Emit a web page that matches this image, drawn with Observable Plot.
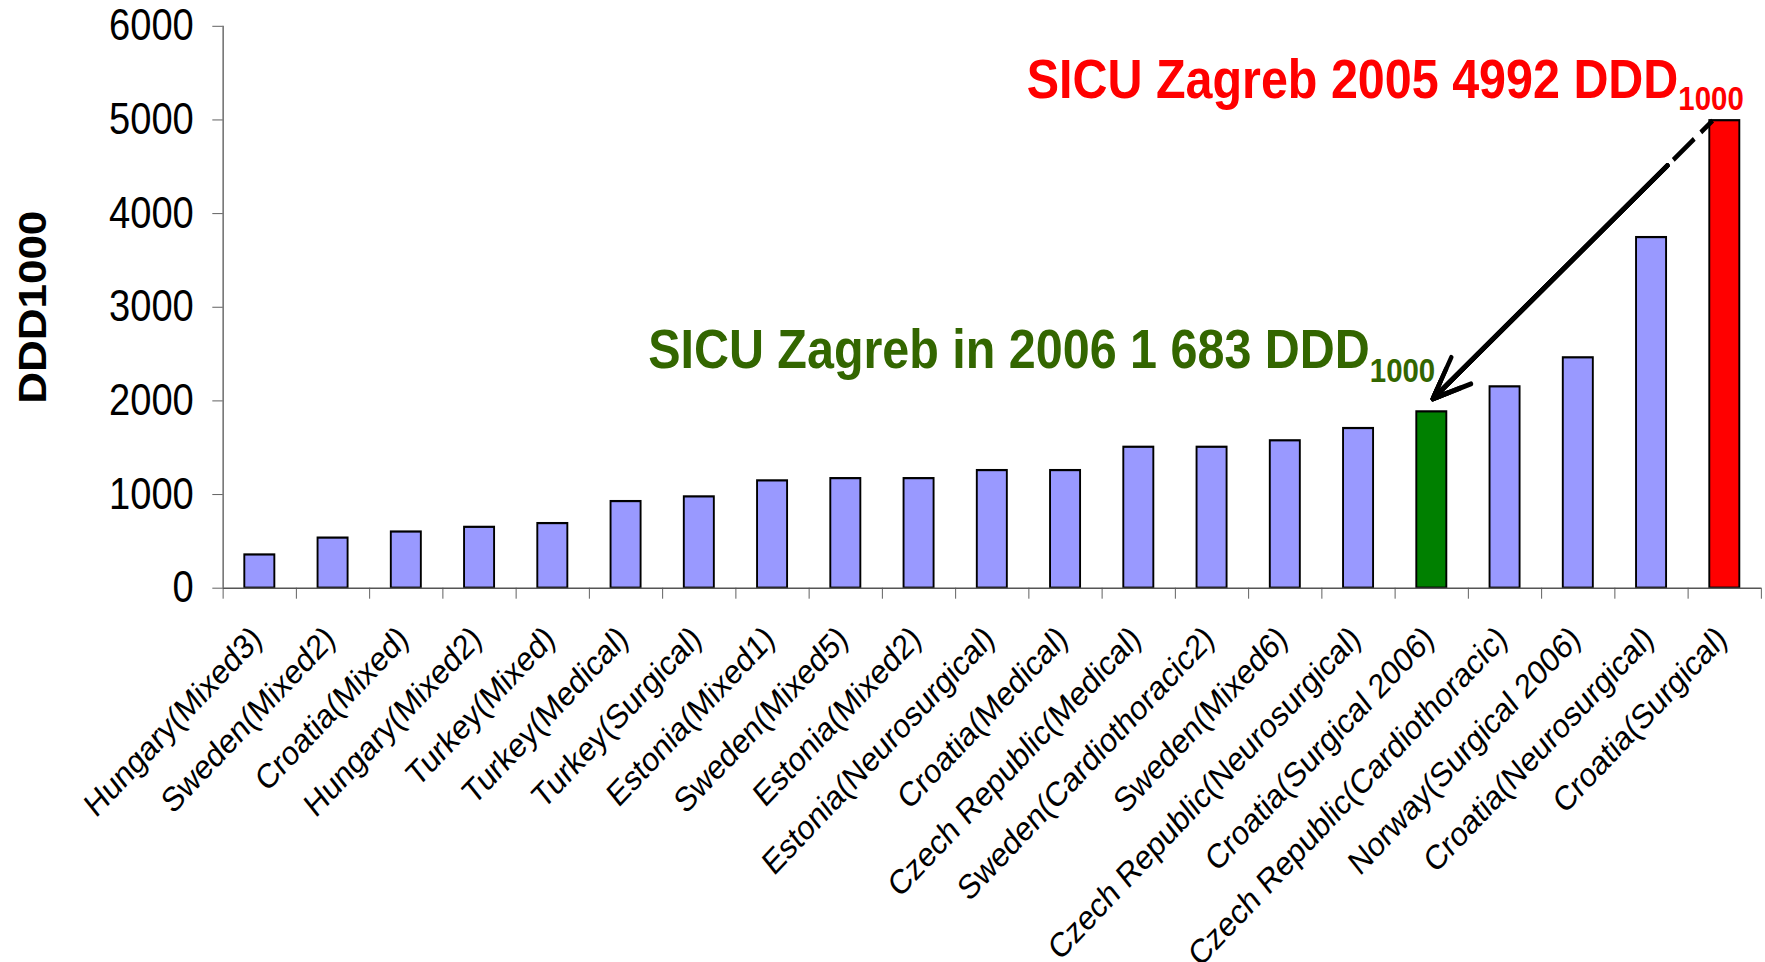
<!DOCTYPE html>
<html>
<head>
<meta charset="utf-8">
<script src="https://cdn.jsdelivr.net/npm/d3@7"></script>
<script src="https://cdn.jsdelivr.net/npm/@observablehq/plot@0.6"></script>
<style>
  html, body { margin: 0; padding: 0; background: #fff; overflow: hidden; }
  #chart svg { display: block; }
  g[aria-label="y-axis tick"], g[aria-label="x-axis tick"] { stroke: #555; }
</style>
</head>
<body>
<div id="chart"></div>
<script>
// ---- data ----
const categories = [
  "Hungary(Mixed3)", "Sweden(Mixed2)", "Croatia(Mixed)", "Hungary(Mixed2)",
  "Turkey(Mixed)", "Turkey(Medical)", "Turkey(Surgical)", "Estonia(Mixed1)",
  "Sweden(Mixed5)", "Estonia(Mixed2)", "Estonia(Neurosurgical)", "Croatia(Medical)",
  "Czech Republic(Medical)", "Sweden(Cardiothoracic2)", "Sweden(Mixed6)",
  "Czech Republic(Neurosurgical)", "Croatia(Surgical 2006)",
  "Czech Republic(Cardiothoracic)", "Norway(Surgical 2006)",
  "Croatia(Neurosurgical)", "Croatia(Surgical)"
];
const values = [355, 535, 600, 650, 690, 925, 975, 1146, 1170, 1170, 1256, 1256,
                1505, 1505, 1574, 1705, 1883, 2150, 2460, 3744, 4992];
const yTicks = [0, 1000, 2000, 3000, 4000, 5000, 6000];
const yLabel = "DDD1000";
const note2005 = {cat: "Croatia(Surgical)", main: "SICU Zagreb 2005 4992 DDD", sub: "1000"};
const note2006 = {cat: "Croatia(Surgical 2006)", main: "SICU Zagreb in 2006 1 683 DDD", sub: "1000"};

// ---- styles ----
const highlight = {"Croatia(Surgical 2006)": "#008000", "Croatia(Surgical)": "#FF0000"};
const baseFill = "#9999FF";

const table = categories.map((c, i) => ({cat: c, v: values[i]}));
const valueOf = Object.fromEntries(table.map(d => [d.cat, d.v]));

// layout (logical units; the picture is horizontally compressed on display)
const W = 2040, H = 962, DISPLAY_W = 1765;
const mL = 257.4, mR = 4.7, mT = 25.8, mB = 374.3;
const step = (W - mL - mR) / categories.length;

const arrowData = [{x1: note2005.cat, y1: valueOf[note2005.cat], x2: note2006.cat, y2: valueOf[note2006.cat]}];
const arrowOpts = {x1: "x1", y1: "y1", x2: "x2", y2: "y2", dx: -14, insetStart: 69, insetEnd: 20, stroke: "black", strokeWidth: 5, headAngle: 44};

const plot = Plot.plot({
  width: W, height: H,
  marginLeft: mL, marginRight: mR, marginTop: mT, marginBottom: mB,
  style: {fontFamily: "'Liberation Sans', Arial, sans-serif", background: "white", color: "black", overflow: "visible"},
  x: {type: "band", domain: categories, paddingInner: 0.59, paddingOuter: 0.295, round: false},
  y: {domain: [0, 6000]},
  marks: [
    // y axis
    Plot.axisY(yTicks, {tickSize: 12, tickPadding: 22, fontSize: 44, tickFormat: d => String(d), label: null}),
    Plot.ruleX([categories[0]], {dx: -step / 2, stroke: "#555", strokeWidth: 1.5}),
    Plot.text([yLabel], {frameAnchor: "left", rotate: -90, textAnchor: "middle", lineAnchor: "middle", dx: -219, fontSize: 44, fontWeight: "bold", letterSpacing: -2}),
    // bars
    Plot.barY(table, {x: "cat", y: "v", fill: d => highlight[d.cat] ?? baseFill, stroke: "black", strokeWidth: 2.2}),
    // x axis line and category boundary ticks
    Plot.ruleY([0], {stroke: "#555", strokeWidth: 1.5}),
    Plot.axisX(categories, {dx: -step / 2, tickSize: 11, tickFormat: () => "", label: null}),
    Plot.axisX([categories[categories.length - 1]], {dx: step / 2, tickSize: 11, tickFormat: () => "", label: null}),
    // category labels
    Plot.text(categories, {x: d => d, frameAnchor: "bottom", rotate: -42.5, textAnchor: "end", lineAnchor: "top", dx: -12, dy: 35, fontSize: 34.3, fill: "black"}),
    // arrow: dashed start + solid body with (filled-looking) head
    Plot.link(arrowData, {x1: "x1", y1: "y1", x2: "x2", y2: "y2", dx: -14, stroke: "black", strokeWidth: 5, strokeDasharray: "18 10 32 5000"}),
    Plot.arrow(arrowData, {...arrowOpts, headLength: 14}),
    Plot.arrow(arrowData, {...arrowOpts, headLength: 10}),
    Plot.arrow(arrowData, {...arrowOpts, headLength: 6}),
    Plot.arrow(arrowData, {...arrowOpts, headLength: 3}),
    // annotations
    Plot.text([note2005], {x: "cat", y: d => valueOf[d.cat], text: "main", textAnchor: "end", dx: 22, dy: -41, fontSize: 56, fontWeight: "bold", fill: "#FF0000"}),
    Plot.text([note2006], {x: "cat", y: d => valueOf[d.cat], text: "main", textAnchor: "end", dx: 4, dy: -61.6, fontSize: 56, fontWeight: "bold", fill: "#336600"})
  ]
});

// subscripts
[[note2005, 12], [note2006, 14]].forEach(([note, shift]) => {
  d3.select(plot).selectAll("text")
    .filter(function () { return this.textContent === note.main; })
    .append("tspan").attr("dy", shift).attr("font-size", 34).text(note.sub);
});

// display with the reference's horizontal compression
plot.setAttribute("viewBox", `0 0 ${W} ${H}`);
plot.setAttribute("preserveAspectRatio", "none");
plot.setAttribute("width", DISPLAY_W);
plot.setAttribute("height", H);
plot.style.width = DISPLAY_W + "px";
plot.style.height = H + "px";
plot.style.maxWidth = "none";
document.getElementById("chart").appendChild(plot);
</script>
</body>
</html>
